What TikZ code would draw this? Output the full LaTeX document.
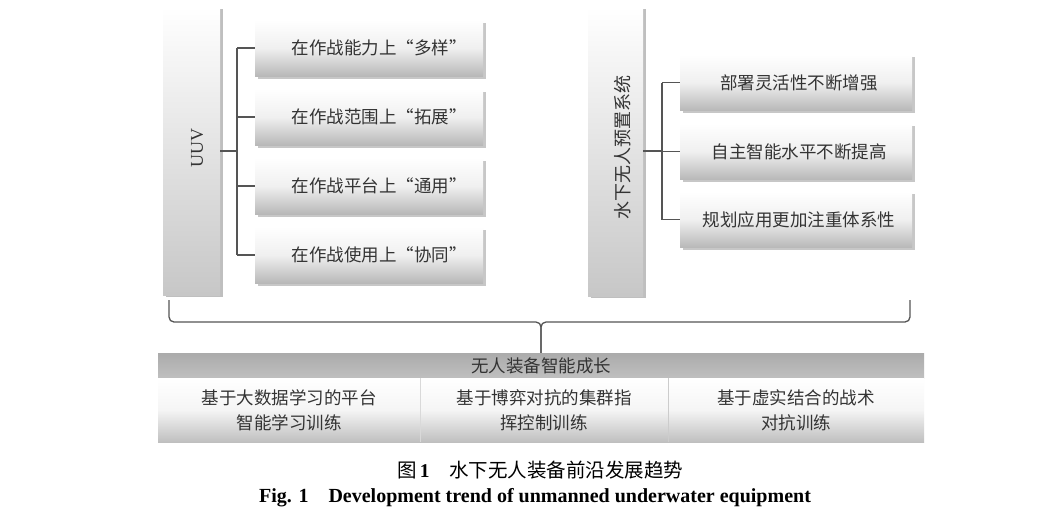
\documentclass[tikz,border=0pt]{standalone}
\usepackage{fontspec}
\setmainfont{Liberation Serif}
\newfontfamily\cjk{Noto Sans CJK SC}
\usetikzlibrary{shadows}
\definecolor{linec}{HTML}{555555}
\definecolor{txtc}{HTML}{333333}
\tikzset{
  cbox/.style={draw=none, top color=white, bottom color=black!28, middle color=black!6,
    drop shadow={shadow xshift=2.5pt, shadow yshift=-2.5pt, fill=black, opacity=0.22},
    text=txtc, font=\cjk\fontsize{17.5}{22}\selectfont, inner sep=0pt},
  tallbox/.style={draw=none, top color=white, bottom color=black!22,
    drop shadow={shadow xshift=3pt, shadow yshift=-2pt, fill=black, opacity=0.25},
    text=txtc, inner sep=0pt},
  conn/.style={draw=linec, line width=1.4pt},
  botbox/.style={draw=none, top color=white, bottom color=black!25, middle color=black!4,
    text=txtc, font=\cjk\fontsize{17.5}{25}\selectfont, align=center, inner sep=0pt},
}
\begin{document}
\begin{tikzpicture}[x=1pt,y=-1pt]
\useasboundingbox (0,0) rectangle (1037,520);
\fill[white] (0,0) rectangle (1037,520);

% left group
\node[tallbox, minimum width=57pt, minimum height=288pt] (uuv) at (191.5,151) {};
\node[rotate=90, text=txtc, font=\fontsize{18}{20}\selectfont] (uuvt) at (197,148) {UUV};
\foreach \y/\t [count=\i] in {48/在作战能力上“多样”,117/在作战范围上“拓展”,186/在作战平台上“通用”,255/在作战使用上“协同”}{
  \node[cbox, minimum width=228pt, minimum height=56pt] (l\i) at (369,\y) {\hspace*{20pt}\t};
}
\coordinate (lj) at (237,151);
\draw[conn] (uuv.east |- lj) -- (lj);
\draw[conn] (lj |- l1.west) -- (lj |- l4.west);
\foreach \i in {1,...,4}{ \draw[conn] (lj |- l\i.west) -- (l\i.west); }

% right group
\node[tallbox, minimum width=55pt, minimum height=289pt] (sys) at (615.5,151.5) {};
\node[rotate=90, text=txtc, font=\cjk\fontsize{18}{20}\selectfont] (syst) at (623,147) {水下无人预置系统};
\foreach \y/\t [count=\i] in {82.5/部署灵活性不断增强,151.5/自主智能水平不断提高,219.5/规划应用更加注重体系性}{
  \node[cbox, minimum width=232pt, minimum height=56pt] (r\i) at (796,\y) {\hspace*{6pt}\t};
}
\coordinate (rj) at (662,151);
\draw[conn] (sys.east |- rj) -- (rj);
\draw[conn] (rj |- r1.west) -- (rj |- r3.west);
\foreach \i in {1,...,3}{ \draw[conn] (rj |- r\i.west) -- (r\i.west); }

% bar
\node[draw=none, top color=black!33, bottom color=black!25, minimum width=766pt, minimum height=25pt, inner sep=0pt,
  text=txtc, font=\cjk\fontsize{17.5}{20}\selectfont] (bar) at (541,365.5) {无人装备智能成长};
% brace
\coordinate (bl) at (169,300);
\coordinate (br) at (910,300);
\draw[conn, line width=1.3pt, rounded corners=5pt] (bl) -- (bl |- 0,322) -- (bar.north |- 0,322) -- (bar.north);
\draw[conn, line width=1.3pt, rounded corners=5pt] (br) -- (br |- 0,322) -- (bar.north |- 0,322) -- (bar.north);

% bottom boxes
\node[botbox, minimum width=262pt, minimum height=64pt] (b1) at (289,410) {基于大数据学习的平台\\智能学习训练};
\node[botbox, minimum width=248pt, minimum height=64pt] (b2) at (544,410) {基于博弈对抗的集群指\\挥控制训练};
\node[botbox, minimum width=256pt, minimum height=64pt] (b3) at (796,410) {基于虚实结合的战术\\对抗训练};
\draw[white!85!black, line width=0.8pt] (b1.north east) -- (b1.south east);
\draw[white!80!black, line width=0.8pt] (b2.north east) -- (b2.south east);

% captions
\node[text=black, font=\cjk\fontsize{19.5}{22}\selectfont] (cap1) at (540,470) {图\,{\rmfamily\bfseries 1}\hspace{1em}水下无人装备前沿发展趋势};
\node[text=black, font=\bfseries\fontsize{20}{22}\selectfont] (cap2) at (535,498) {Fig. 1\hspace{1em}Development trend of unmanned underwater equipment};
\end{tikzpicture}
\end{document}
